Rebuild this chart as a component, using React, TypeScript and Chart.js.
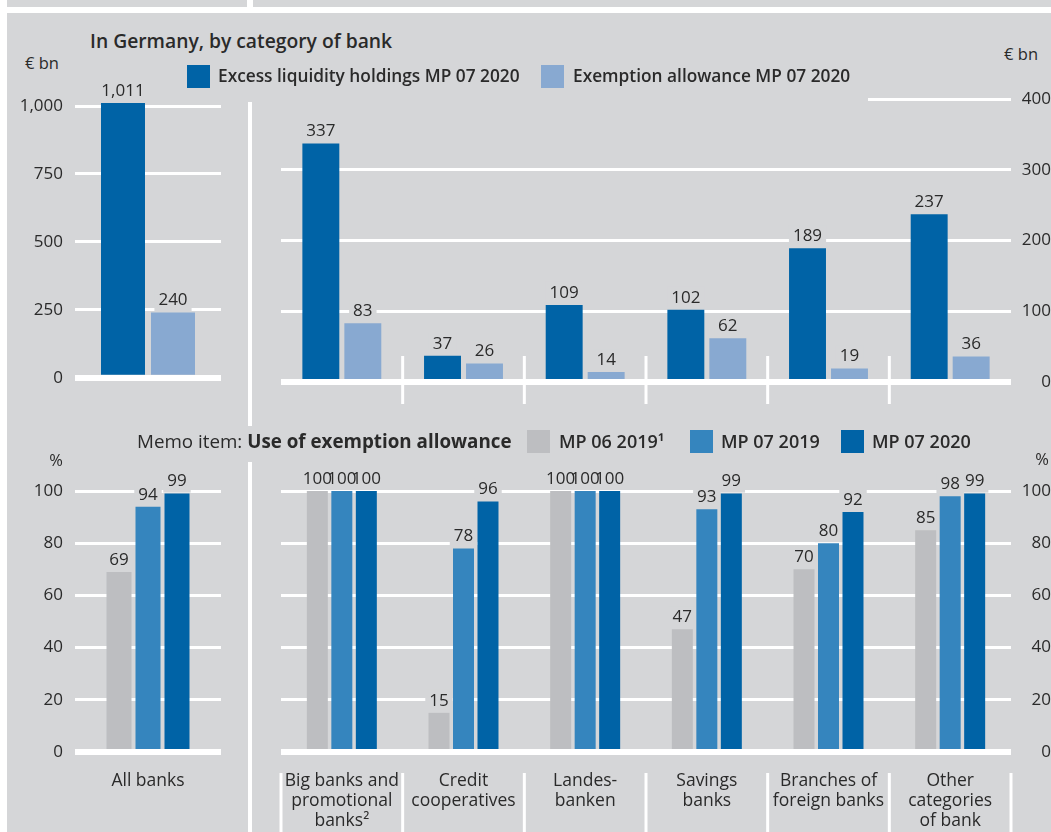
import React, { useEffect, useRef } from "react";
import { Chart, registerables } from "chart.js";

Chart.register(...registerables);

const BG = "#d5d6d8";
const TEXT = "#2a2a2a";
const FONT = "'Open Sans', 'Noto Sans', 'DejaVu Sans', sans-serif";
const DARK = "#0063a6";
const LIGHT = "#88a9d1";
const MID = "#3585be";
const GREY = "#bdbec1";

// ---- data ----
const allBanksLabels = ["All banks"];
const categoryLabels = [
  ["Big banks and", "promotional", "banks²"],
  ["Credit", "cooperatives"],
  ["Landes-", "banken"],
  ["Savings", "banks"],
  ["Branches of", "foreign banks"],
  ["Other", "categories", "of bank"],
];
const allExcess = [1011];
const allAllowance = [240];
const catExcess = [337, 37, 109, 102, 189, 237];
const catAllowance = [83, 26, 14, 62, 19, 36];
const allUse0619 = [69];
const allUse0719 = [94];
const allUse0720 = [99];
const catUse0619 = [100, 15, 100, 47, 70, 85];
const catUse0719 = [100, 78, 100, 93, 80, 98];
const catUse0720 = [100, 96, 100, 99, 92, 99];
const ticksAllBn = [0, 250, 500, 750, 1000];
const ticksCatBn = [0, 100, 200, 300, 400];
const ticksPct = [0, 20, 40, 60, 80, 100];

const fmt = (v: number) => Number(v).toLocaleString("en-US");

const LABEL_FONT = `17px ${FONT}`;

const labelPlugin = {
  id: "barLabels",
  _items(chart: any) {
    const items: any[] = [];
    chart.data.datasets.forEach((ds: any, di: number) => {
      const meta = chart.getDatasetMeta(di);
      meta.data.forEach((el: any, i: number) => {
        items.push({ x: el.x, y: el.y - 13, txt: fmt(ds.data[i]) });
      });
    });
    return items;
  },
  beforeDatasetsDraw(chart: any) {
    const ctx = chart.ctx;
    ctx.save();
    ctx.font = LABEL_FONT;
    ctx.fillStyle = BG;
    (labelPlugin as any)._items(chart).forEach((it: any) => {
      const w = ctx.measureText(it.txt).width + 8;
      ctx.fillRect(it.x - w / 2, it.y - 10, w, 22);
    });
    ctx.restore();
  },
  afterDatasetsDraw(chart: any) {
    const ctx = chart.ctx;
    ctx.save();
    ctx.font = LABEL_FONT;
    ctx.fillStyle = TEXT;
    ctx.textAlign = "center";
    ctx.textBaseline = "middle";
    (labelPlugin as any)._items(chart).forEach((it: any) => {
      ctx.fillText(it.txt, it.x, it.y + 1);
    });
    ctx.restore();
  },
};

const separatorPlugin = {
  id: "separators",
  afterDatasetsDraw(chart: any, _args: any, opts: any) {
    if (!opts || !opts.enabled) return;
    const xs = chart.scales.x;
    const n = chart.data.labels.length;
    const { ctx, chartArea } = chart;
    ctx.save();
    ctx.strokeStyle = "#ffffff";
    ctx.lineWidth = 3;
    for (let i = 0; i <= n; i++) {
      if (!opts.edges && (i === 0 || i === n)) continue;
      let px: number;
      if (i === 0) px = chartArea.left;
      else if (i === n) px = chartArea.right;
      else px = (xs.getPixelForValue(i - 1) + xs.getPixelForValue(i)) / 2;
      ctx.beginPath();
      ctx.moveTo(px, chartArea.bottom + opts.from);
      ctx.lineTo(px, chartArea.bottom + opts.to);
      ctx.stroke();
    }
    ctx.restore();
  },
};

function yAxis(min: number, max: number, tickVals: number[], side: "left" | "right", width: number) {
  return {
    position: side,
    min,
    max,
    afterBuildTicks: (s: any) => {
      s.ticks = tickVals.map((v) => ({ value: v }));
    },
    afterFit: (s: any) => {
      s.width = width;
    },
    grid: {
      color: "#ffffff",
      lineWidth: (c: any) => (c.tick && c.tick.value === 0 ? 6 : 3),
      drawTicks: false,
    },
    border: { display: false },
    ticks: {
      padding: side === "left" ? 12 : 8,
      crossAlign: side === "left" ? "near" : "far",
      color: TEXT,
      font: { family: FONT, size: 17 },
      callback: (v: any) => fmt(v),
    },
  };
}

function makeConfig(opts: any) {
  const {
    labels, datasets, yMin, yMax, tickVals, side, axisWidth, padding, showX, cat, bar, sep,
  } = opts;
  return {
    type: "bar",
    data: {
      labels,
      datasets: datasets.map((d: any) => ({
        label: d.label,
        data: d.data,
        backgroundColor: d.color,
        borderWidth: 0,
        categoryPercentage: cat,
        barPercentage: bar,
        clip: false,
      })),
    },
    options: {
      responsive: false,
      animation: false,
      layout: { padding },
      plugins: {
        legend: { display: false },
        tooltip: { enabled: false },
        title: { display: false },
        separators: sep || { enabled: false },
      },
      scales: {
        x: showX
          ? {
              grid: { display: false, drawTicks: false },
              border: { display: false },
              afterFit: (s: any) => {
                s.height = 80;
              },
              ticks: {
                padding: 19,
                color: TEXT,
                maxRotation: 0,
                autoSkip: false,
                font: { family: FONT, size: 17.5, lineHeight: 20 / 17.5 },
              },
            }
          : { display: false },
        y: yAxis(yMin, yMax, tickVals, side, axisWidth),
      },
    },
    plugins: [labelPlugin, separatorPlugin],
  };
}

function Panel({ left, top, width, height, config }: any) {
  const ref = useRef<HTMLCanvasElement>(null);
  useEffect(() => {
    if (!ref.current) return;
    const chart = new Chart(ref.current, config);
    return () => chart.destroy();
  }, []);
  return (
    <canvas
      ref={ref}
      width={width}
      height={height}
      style={{ position: "absolute", left, top, width, height, zIndex: 1 }}
    />
  );
}

function Txt({ x, y, children, style, align }: any) {
  const base: any = {
    position: "absolute",
    top: y - 12,
    lineHeight: "24px",
    fontFamily: FONT,
    fontSize: 16.5,
    color: TEXT,
    whiteSpace: "nowrap",
    zIndex: 3,
  };
  if (align === "right") base.right = 1051 - x;
  else base.left = x;
  return <div style={{ ...base, ...style }}>{children}</div>;
}

function Square({ x, y, color }: any) {
  return (
    <div
      style={{ position: "absolute", left: x, top: y, width: 23, height: 23, background: color, zIndex: 3 }}
    />
  );
}

export default function App() {
  const topLeft = makeConfig({
    labels: allBanksLabels,
    datasets: [
      { label: "Excess liquidity holdings MP 07 2020", data: allExcess, color: DARK },
      { label: "Exemption allowance MP 07 2020", data: allAllowance, color: LIGHT },
    ],
    yMin: 0, yMax: 1000, tickVals: ticksAllBn, side: "left", axisWidth: 75,
    padding: { left: 0, right: 27, top: 24, bottom: 22 },
    showX: false, cat: 0.685, bar: 0.88,
  });
  const topRight = makeConfig({
    labels: categoryLabels,
    datasets: [
      { label: "Excess liquidity holdings MP 07 2020", data: catExcess, color: DARK },
      { label: "Exemption allowance MP 07 2020", data: catAllowance, color: LIGHT },
    ],
    yMin: 0, yMax: 400, tickVals: ticksCatBn, side: "right", axisWidth: 40,
    padding: { left: 31, right: 0, top: 24, bottom: 28 },
    showX: false, cat: 0.69, bar: 0.88,
    sep: { enabled: true, edges: false, from: -26, to: 22 },
  });
  const botLeft = makeConfig({
    labels: allBanksLabels,
    datasets: [
      { label: "MP 06 2019¹", data: allUse0619, color: GREY },
      { label: "MP 07 2019", data: allUse0719, color: MID },
      { label: "MP 07 2020", data: allUse0720, color: DARK },
    ],
    yMin: 0, yMax: 100, tickVals: ticksPct, side: "left", axisWidth: 75,
    padding: { left: 0, right: 27, top: 24, bottom: 0 },
    showX: true, cat: 0.596, bar: 0.862,
  });
  const botRight = makeConfig({
    labels: categoryLabels,
    datasets: [
      { label: "MP 06 2019¹", data: catUse0619, color: GREY },
      { label: "MP 07 2019", data: catUse0719, color: MID },
      { label: "MP 07 2020", data: catUse0720, color: DARK },
    ],
    yMin: 0, yMax: 100, tickVals: ticksPct, side: "right", axisWidth: 40,
    padding: { left: 31, right: 0, top: 24, bottom: 0 },
    showX: true, cat: 0.604, bar: 0.857,
    sep: { enabled: true, edges: true, from: 21, to: 80 },
  });

  return (
    <div
      style={{
        position: "fixed", left: 0, top: 0, width: 1051, height: 832,
        background: "#ffffff", overflow: "hidden", fontFamily: FONT,
      }}
    >
      <div style={{ position: "absolute", left: 7, top: 0, width: 240, height: 7, background: BG }} />
      <div style={{ position: "absolute", left: 253, top: 0, width: 798, height: 7, background: BG }} />
      <div style={{ position: "absolute", left: 7, top: 13, width: 1044, height: 819, background: BG }} />
      <div style={{ position: "absolute", left: 248, top: 102, width: 4, height: 324, background: "#fff", zIndex: 2 }} />
      <div style={{ position: "absolute", left: 248, top: 462, width: 4, height: 370, background: "#fff", zIndex: 2 }} />

      <Panel left={0} top={82} width={248} height={318} config={topLeft} />
      <Panel left={250} top={75} width={801} height={335} config={topRight} />
      <Panel left={0} top={467} width={248} height={365} config={botLeft} />
      <Panel left={250} top={467} width={801} height={365} config={botRight} />

      {/* mask behind legend over the 400 gridline */}
      <div style={{ position: "absolute", left: 275, top: 93, width: 593, height: 12, background: BG, zIndex: 2 }} />

      <Txt x={90} y={41} style={{ fontWeight: 600, fontSize: 19.3 }}>In Germany, by category of bank</Txt>
      <Txt x={25} y={63}>€ bn</Txt>
      <Txt x={1038} y={54} align="right">€ bn</Txt>

      <Square x={187} y={65} color={DARK} />
      <Txt x={218} y={76} style={{ fontWeight: 600, fontSize: 17.3 }}>Excess liquidity holdings MP 07 2020</Txt>
      <Square x={541} y={65} color={LIGHT} />
      <Txt x={573} y={76} style={{ fontWeight: 600, fontSize: 17.3 }}>Exemption allowance MP 07 2020</Txt>

      <Txt x={137} y={441} style={{ fontSize: 18.8 }}>
        Memo item: <span style={{ fontWeight: 700 }}>Use of exemption allowance</span>
      </Txt>
      <Square x={527} y={430} color={GREY} />
      <Txt x={559} y={441} style={{ fontWeight: 600, fontSize: 18 }}>MP 06 2019¹</Txt>
      <Square x={690} y={430} color={MID} />
      <Txt x={721} y={441} style={{ fontWeight: 600, fontSize: 18 }}>MP 07 2019</Txt>
      <Square x={841} y={430} color={DARK} />
      <Txt x={872} y={441} style={{ fontWeight: 600, fontSize: 18 }}>MP 07 2020</Txt>

      <Txt x={63} y={460} align="right">%</Txt>
      <Txt x={1049} y={459} align="right">%</Txt>
    </div>
  );
}
